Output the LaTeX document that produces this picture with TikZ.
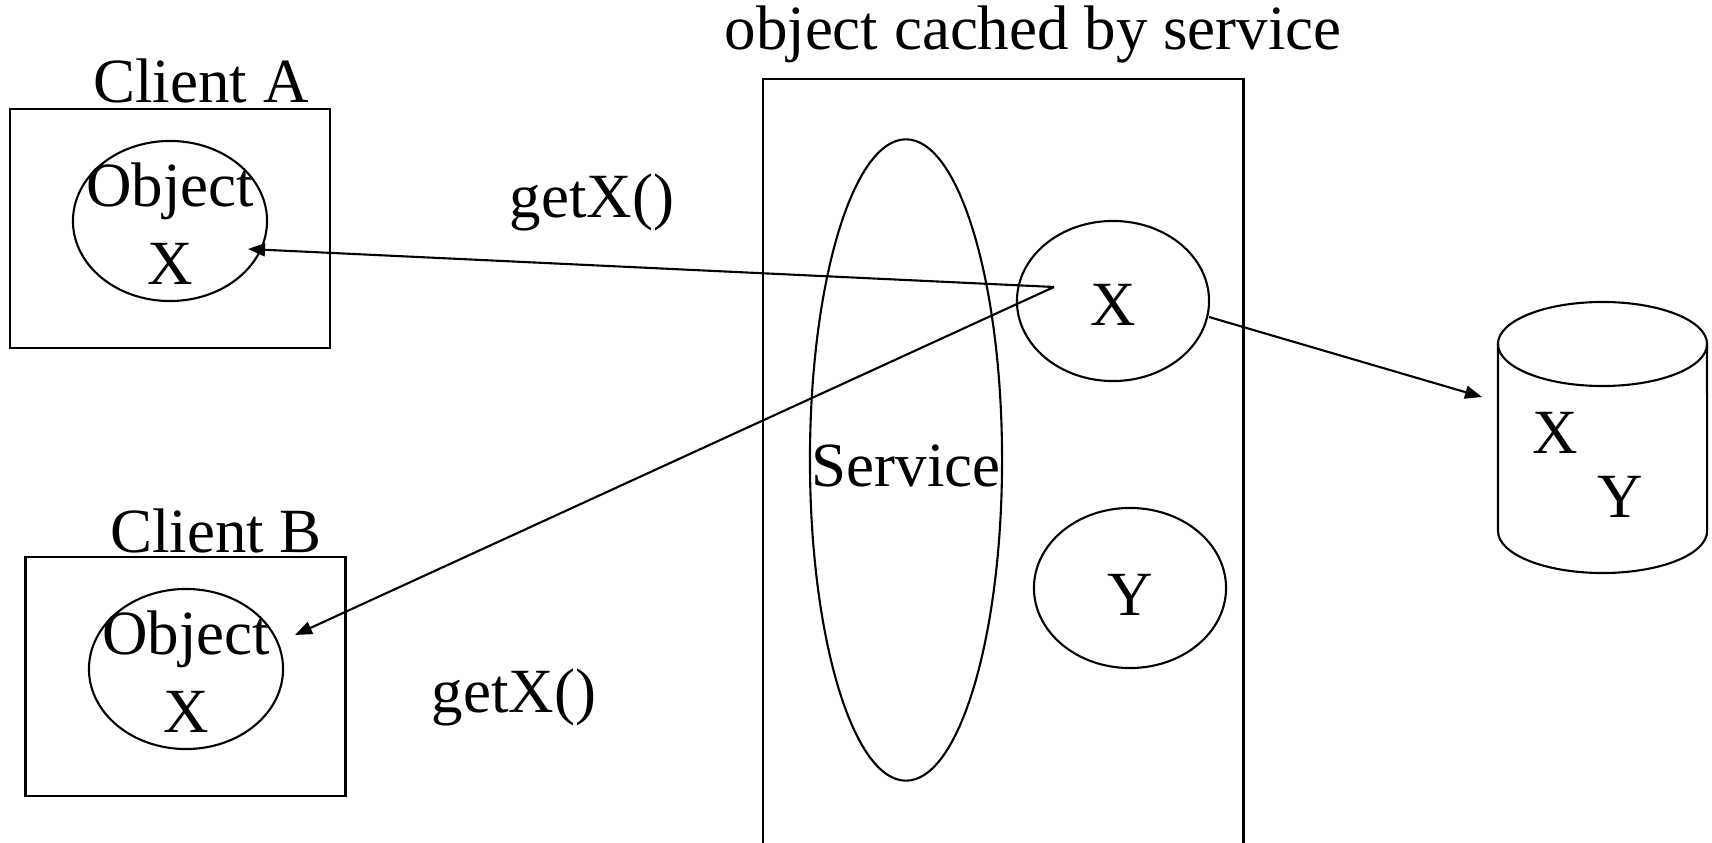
\documentclass[tikz,border=0pt]{standalone}
\usepackage{fontspec}
\setmainfont{Liberation Serif}
\usetikzlibrary{shapes.geometric, arrows.meta, positioning}

\begin{document}
\begin{tikzpicture}[
        x=0.01cm, y=-0.01cm,
        font=\fontsize{17.9}{22.2}\selectfont,
        % Box styles
        clientbox/.style={rectangle, draw=black, line width=0.7pt, minimum width=3.2cm, minimum height=2.39cm},
        objoval/.style={ellipse, draw=black, line width=0.6pt, minimum width=1.94cm, minimum height=1.6cm, inner sep=0pt},
        cacheoval/.style={ellipse, draw=black, line width=0.6pt, minimum width=1.92cm, minimum height=1.6cm, inner sep=0pt},
        ovaltext/.style={inner sep=0pt, align=center},
        txtlabel/.style={inner sep=0pt, anchor=base},
        arrow/.style={draw, line width=0.6pt, -{Triangle[length=0.17cm, width=0.13cm]}}
    ]
    \useasboundingbox (0,0) rectangle (1712,843);
    \clip (0,0) rectangle (1712,843);

    % --- CLIENTS ---
    \node (boxA) [clientbox] at (170,228.5) {};
    \node (objA) [objoval] at (170,221) {};
    \node (objAtext) [ovaltext, yshift=-0.03cm] at (objA) {Object\\X};
    \node (lblA) [txtlabel] at (201,103) {Client A};

    \node (boxB) [clientbox] at (185.5,676.5) {};
    \node (objB) [objoval] at (186,669) {};
    \node (objBtext) [ovaltext, yshift=-0.03cm] at (objB) {Object\\X};
    \node (lblB) [txtlabel] at (216,552) {Client B};

    % --- SERVICE CACHE ---
    \node (cache) [rectangle, draw=black, line width=0.7pt, minimum width=4.8cm, minimum height=8.6cm, anchor=north west] at (762,78) {};
    \node (title) [txtlabel] at (1033,50) {object cached by service};
    \node (service) [ellipse, draw=black, line width=0.6pt, minimum width=1.92cm, minimum height=6.41cm, inner sep=0pt] at (906,460) {};
    \node (servicetext) [txtlabel] at (906,486) {Service};
    \node (cacheX) [cacheoval] at (1113,301) {};
    \node (cacheXtext) [txtlabel] at (1113,326) {X};
    \node (cacheY) [cacheoval] at (1130,588) {};
    \node (cacheYtext) [txtlabel] at (1130,615) {Y};

    % --- DATABASE ---
    \draw [line width=0.6pt] (1498,344) -- (1498,531)
        arc[start angle=180, end angle=360, x radius=1.045cm, y radius=0.42cm] -- (1707,344);
    \draw [line width=0.6pt] (1602.5,344) ellipse [x radius=1.045cm, y radius=0.42cm];
    \node (dbX) [txtlabel] at (1555,454) {X};
    \node (dbY) [txtlabel] at (1620,518) {Y};

    % --- CALL LABELS ---
    \node (getA) [txtlabel] at (592,218) {getX()};
    \node (getB) [txtlabel] at (514,712) {getX()};

    % --- ARROWS ---
    \coordinate (src) at (1054,287);
    \coordinate (tipA) at (248,249);
    \coordinate (tipB) at (295,635);
    \coordinate (outX) at (1209,317);
    \coordinate (tipDB) at (1482,397);

    \draw [arrow] (src) -- (tipA);
    \draw [arrow] (src) -- (tipB);
    \draw [arrow] (outX) -- (tipDB);

\end{tikzpicture}
\end{document}
